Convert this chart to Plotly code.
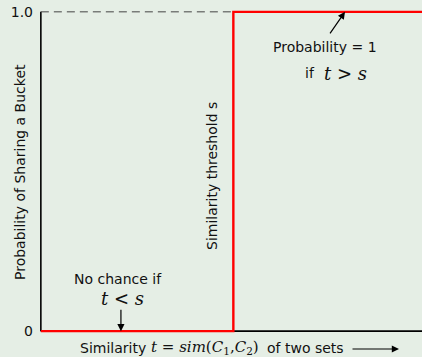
import plotly.graph_objects as go

# ---- data ----
threshold = 0.5
step_x = [0.0, threshold, threshold, 1.0]
step_y = [0.0, 0.0, 1.0, 1.0]
dash_x = [0.0, threshold]
dash_y = [1.0, 1.0]
y_tick_vals = [0, 1]
y_tick_text = ["0", "1.0"]
arrow_low = (0.208, 0.0)
arrow_high = (0.79, 1.0)

W, H = 422, 357
L, R, T, B = 37, 0, 8, 22
PW, PH = W - L - R, H - T - B
XR = [-0.01, 0.99]
YR = [-0.012, 1.012]

def px(xp):
    return (xp - L) / PW

def py(yp):
    return (H - B - yp) / PH

BG = "#e5eee5"
SANS = "DejaVu Sans"
SERIF = "DejaVu Serif"

fig = go.Figure()
# axis lines
fig.add_trace(go.Scatter(x=[0, 0], y=[0, 1], mode="lines",
                         line=dict(color="black", width=1.6), hoverinfo="skip"))
fig.add_trace(go.Scatter(x=[0, 1.0], y=[0, 0], mode="lines",
                         line=dict(color="black", width=1.6), hoverinfo="skip"))
# dashed
fig.add_trace(go.Scatter(x=dash_x, y=dash_y, mode="lines",
                         line=dict(color="#444444", width=1, dash="8px,5px"), hoverinfo="skip"))
# step
fig.add_trace(go.Scatter(x=step_x, y=step_y, mode="lines",
                         line=dict(color="#ff0000", width=2.4), hoverinfo="skip"))

ann = []
def text(x, y, s, size=14, family=SANS, xanchor="center", angle=0):
    ann.append(dict(x=px(x), y=py(y), xref="paper", yref="paper", text=s,
                    showarrow=False, xanchor=xanchor, yanchor="middle",
                    textangle=angle, font=dict(family=family, size=size, color="#111111")))

text(20, 172, "Probability of Sharing a Bucket", angle=-90)
text(212, 176, "Similarity threshold s", angle=-90)
text(118, 279, "No chance if")
text(122, 298, "<i>t</i> < <i>s</i>", size=18, family=SERIF)
text(325, 47, "Probability = 1")
text(310, 73, "if")
text(345, 73, "<i>t</i> > <i>s</i>", size=18, family=SERIF)
text(78, 348, "Similarity", xanchor="left")
text(149, 348, "<i>t</i> = <i>sim</i>(<i>C</i><sub>1</sub>,<i>C</i><sub>2</sub>)", size=15, family=SERIF, xanchor="left")
text(265, 348, "of two sets", xanchor="left")

# arrows
ann.append(dict(x=arrow_low[0], y=arrow_low[1], xref="x", yref="y", ax=0, ay=-23,
                text="", showarrow=True, arrowhead=2, arrowsize=1.2, arrowwidth=1.2, arrowcolor="black"))
ann.append(dict(x=arrow_high[0], y=arrow_high[1], xref="x", yref="y", ax=-16, ay=23,
                text="", showarrow=True, arrowhead=2, arrowsize=1.2, arrowwidth=1.2, arrowcolor="black"))
ann.append(dict(x=px(399), y=py(349), xref="paper", yref="paper", ax=-48, ay=0,
                text="", showarrow=True, arrowhead=2, arrowsize=1.2, arrowwidth=1.2, arrowcolor="black"))

fig.update_layout(
    width=W, height=H,
    margin=dict(l=L, r=R, t=T, b=B, pad=0),
    paper_bgcolor=BG, plot_bgcolor=BG,
    showlegend=False,
    annotations=ann,
    xaxis=dict(range=XR, showgrid=False, zeroline=False, showticklabels=False,
               ticks="", showline=False, fixedrange=True),
    yaxis=dict(range=YR, showgrid=False, zeroline=False, tickvals=y_tick_vals,
               ticktext=y_tick_text, ticks="", showline=False, ticklabelstandoff=3,
               tickfont=dict(family=SANS, size=14, color="#111111"), fixedrange=True),
)

fig.write_html("out.html", config={"displayModeBar": False},
               post_script="document.body.style.margin='0';document.body.style.overflow='hidden';")
